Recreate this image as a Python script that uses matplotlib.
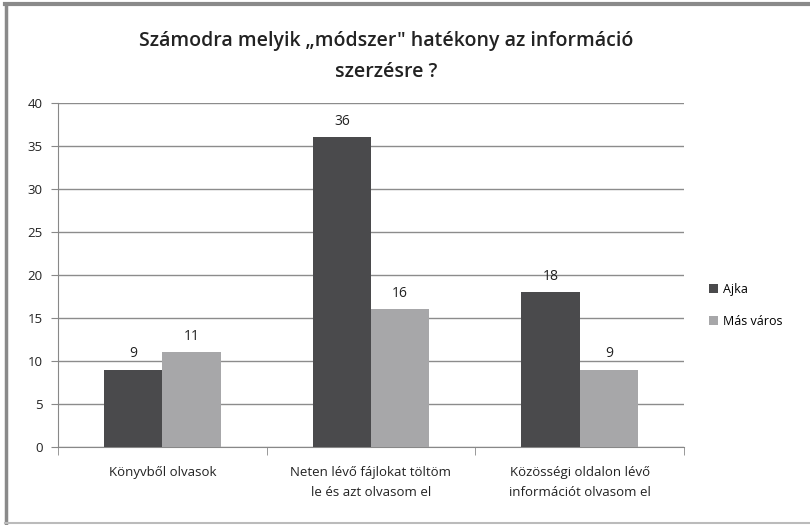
import matplotlib
matplotlib.use("Agg")
import matplotlib.pyplot as plt
import numpy as np
from matplotlib.lines import Line2D

plt.rcParams['font.family'] = ['Open Sans', 'DejaVu Sans']

title = 'Számodra melyik „módszer" hatékony az információ\nszerzésre ?'
categories = ['Könyvből olvasok', 'Neten lévő fájlokat töltöm\nle és azt olvasom el',
              'Közösségi oldalon lévő\ninformációt olvasom el']
series_names = ['Ajka', 'Más város']
ajka = [9, 36, 18]
mas_varos = [11, 16, 9]
colors = ['#4a4a4c', '#a7a7a9']
yticks = [0, 5, 10, 15, 20, 25, 30, 35, 40]

fig = plt.figure(figsize=(8.1, 5.25), dpi=100)
ax = fig.add_axes([0.0716, 0.1486, 0.7728, 0.6554])

x = np.arange(len(categories))
w = 0.28
b1 = ax.bar(x - w/2, ajka, w, color=colors[0], label=series_names[0], zorder=3)
b2 = ax.bar(x + w/2, mas_varos, w, color=colors[1], label=series_names[1], zorder=3)
for bars in (b1, b2):
    for r in bars:
        ax.text(r.get_x() + r.get_width()/2, r.get_height() + 1.0, f'{int(r.get_height())}',
                ha='center', va='bottom', fontsize=10, color='#222222')

ax.set_xlim(-0.5, len(categories) - 0.5)
ax.set_ylim(0, 40)
ax.set_yticks(yticks)
ax.tick_params(axis='y', length=5, color='#888888', labelsize=9.5, labelcolor='#222222', pad=6)
ax.yaxis.grid(True, color='#8c8c8c', linewidth=1.0, zorder=0)
ax.set_axisbelow(True)

ax.set_xticks(x)
ax.set_xticklabels(categories, fontsize=9.5, color='#222222', linespacing=1.7)
ax.tick_params(axis='x', length=0, pad=14)
# boundary ticks
ax.set_xticks(np.arange(len(categories) + 1) - 0.5, minor=True)
ax.tick_params(axis='x', which='minor', length=6, color='#888888')

for s in ['top', 'right']:
    ax.spines[s].set_visible(False)
ax.spines['left'].set_color('#888888')
ax.spines['bottom'].set_color('#888888')

fig.text(0.477, 0.893, title, ha='center', va='center', fontsize=14,
         fontweight='semibold', color='#222222', linespacing=1.75)

leg = fig.legend(handles=[b1, b2], labels=series_names, loc='center left',
                 bbox_to_anchor=(0.862, 0.418), frameon=False, fontsize=9,
                 handlelength=0.7, handleheight=0.7, handletextpad=0.4, labelspacing=1.55)

# outer frame
fig.add_artist(Line2D([0.006, 1.0], [0.992, 0.992], transform=fig.transFigure, color='#8a8a8a', linewidth=3))
fig.add_artist(Line2D([0.007, 0.007], [0.003, 0.992], transform=fig.transFigure, color='#8a8a8a', linewidth=2.5))
fig.add_artist(Line2D([0.006, 1.0], [0.004, 0.004], transform=fig.transFigure, color='#bbbbbb', linewidth=1.5))

fig.savefig('out.png', dpi=100)
